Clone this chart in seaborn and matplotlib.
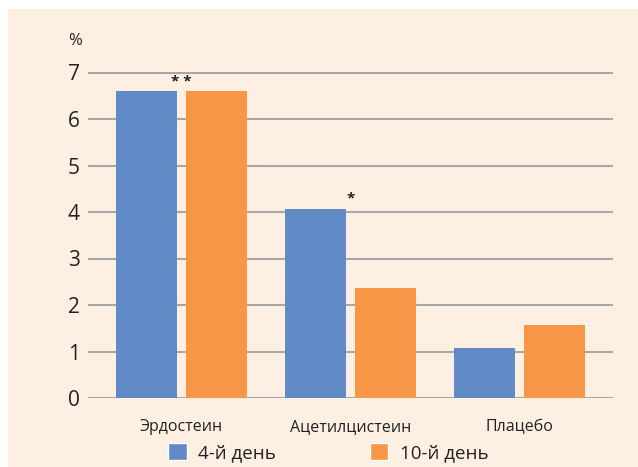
import matplotlib
matplotlib.use("Agg")
import matplotlib.pyplot as plt
import seaborn as sns
import pandas as pd
from matplotlib.patches import Rectangle

# Data
drugs = ["Эрдостеин", "Ацетилцистеин", "Плацебо"]
day4 = [6.6, 4.07, 1.08]
day10 = [6.6, 2.37, 1.57]
series_names = ["4-й день", "10-й день"]
stars = ["* *", "*", ""]
star_heights = [6.8, 4.3, 0]

BG = "#fdf0e3"
BLUE = "#608bc6"
ORANGE = "#f79646"
GRID = "#a8a8a8"
TEXT = "#222222"

df = pd.DataFrame({
    "drug": drugs * 2,
    "value": day4 + day10,
    "day": [series_names[0]] * 3 + [series_names[1]] * 3,
})

sns.set_style("white")
plt.rcParams["font.family"] = ["Open Sans", "DejaVu Sans"]

fig = plt.figure(figsize=(6.38, 4.67), dpi=100, facecolor="white")
# beige panel behind the chart
fig.patches.append(Rectangle((8 / 638, 0), 1, 1 - 9 / 467, transform=fig.transFigure,
                             facecolor=BG, edgecolor="none", zorder=-10))

ymax = 7.03
px_per_unit = 46.5
top = 1 - (398 - ymax * px_per_unit) / 467
ax = fig.add_axes([88 / 638, 1 - 398 / 467, (613 - 88) / 638, top - (1 - 398 / 467)])
ax.set_facecolor("none")

sns.barplot(data=df, x="drug", y="value", hue="day", palette=[BLUE, ORANGE],
            width=0.827, gap=0.129, saturation=1, linewidth=0, edgecolor="none",
            ax=ax, legend=False, zorder=3)

ax.set_xlim(-0.55, 2.55)
ax.set_ylim(0, ymax)
ax.set_yticks(range(0, 8))
for v in range(0, 8):
    ax.axhline(v, color=GRID, lw=1.5, zorder=1)
for s in ax.spines.values():
    s.set_visible(False)
ax.tick_params(axis="both", length=0, colors=TEXT)
ax.tick_params(axis="y", labelsize=15, pad=6)
ax.tick_params(axis="x", labelsize=11.5, pad=15)
ax.set_xlabel("")
ax.set_ylabel("")

for i, (s, h) in enumerate(zip(stars, star_heights)):
    if s:
        ax.text(i, h, s, ha="center", va="center", fontsize=11, fontweight="bold", color=TEXT)

fig.text(75 / 638, 1 - 41 / 467, "%", ha="center", va="center", fontsize=12, color=TEXT)

handles = [Rectangle((0, 0), 1, 1, facecolor=c) for c in (BLUE, ORANGE)]
fig.legend(handles, series_names, loc="lower center", bbox_to_anchor=(328 / 638, -0.026),
           ncol=2, frameon=False, fontsize=13.5, handlelength=1.0, handleheight=1.0,
           handletextpad=0.6, columnspacing=5.0, labelcolor=TEXT)

fig.savefig("out.png", dpi=100, facecolor="white")
